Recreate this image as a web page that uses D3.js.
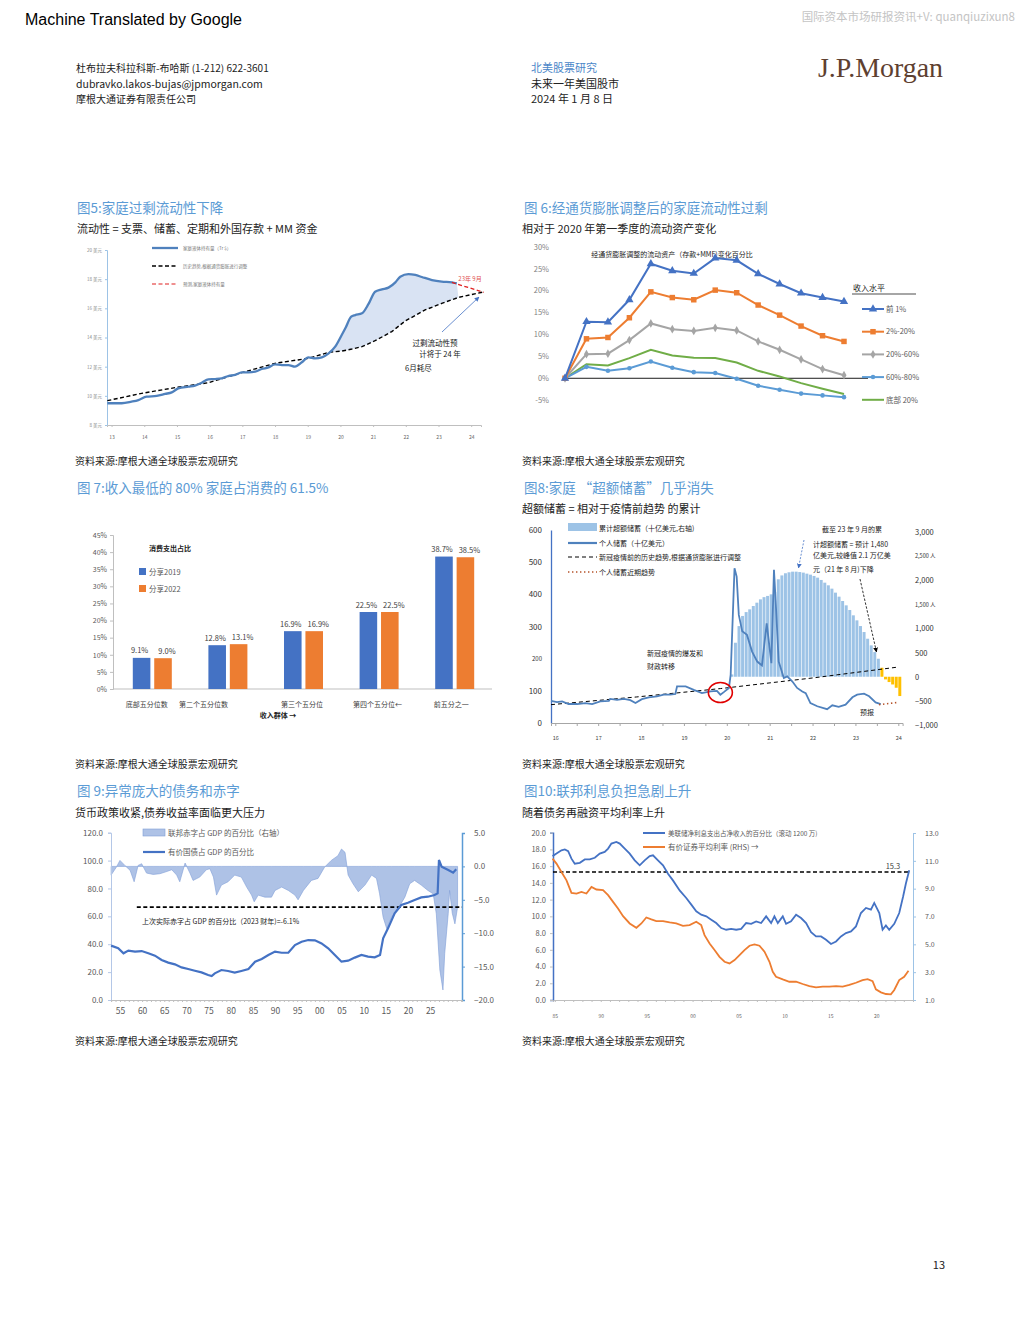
<!DOCTYPE html>
<html>
<head>
<meta charset="utf-8">
<script src="https://cdnjs.cloudflare.com/ajax/libs/d3/7.8.5/d3.min.js"></script>
<style>
  body { margin: 0; background: #fff; }
  svg { display: block; font-family: "Noto Sans CJK SC", "Noto Sans", sans-serif; }
</style>
</head>
<body>
<svg id="page" width="1020" height="1320"></svg>
<script>
'use strict';

// ---------- Fig 5: household liquidity (Tr $) ----------
const liqYears = [2012.87, 2013.31, 2013.61, 2013.82, 2014.07, 2014.38, 2014.64, 2014.84, 2015.04, 2015.35,
  2015.55, 2015.76, 2015.96, 2016.17, 2016.37, 2016.57, 2016.78, 2016.98, 2017.19, 2017.39, 2017.59, 2017.80,
  2018.00, 2018.21, 2018.41, 2018.61, 2018.82, 2019.02, 2019.23, 2019.43, 2019.64, 2019.84, 2020.04, 2020.15,
  2020.33, 2020.45, 2020.66, 2020.86, 2021.06, 2021.27, 2021.47, 2021.68, 2021.83, 2022.08, 2022.29, 2022.49,
  2022.80, 2023.10, 2023.41, 2023.56];
const liqValues = [9.49, 9.49, 9.60, 9.71, 9.94, 9.99, 10.13, 10.24, 10.51, 10.63,
  10.70, 10.90, 11.13, 11.15, 11.20, 11.36, 11.43, 11.61, 11.61, 11.66, 11.84, 11.95,
  12.16, 12.11, 12.11, 12.00, 12.30, 12.64, 12.57, 12.64, 12.91, 13.37, 14.17, 14.63,
  15.43, 15.54, 15.66, 16.30, 17.14, 17.30, 17.42, 17.78, 18.17, 18.35, 18.29, 18.15,
  17.94, 17.83, 17.78, 17.71];
const liqTrendYears = [2012.87, 2013.92, 2014.94, 2015.96, 2016.98, 2018.00, 2019.02, 2019.64, 2020.04,
  2020.35, 2020.66, 2021.06, 2021.57, 2021.98, 2022.59, 2023.10, 2023.61, 2024.38];
const liqTrendValues = [9.67, 10.17, 10.56, 10.90, 11.59, 12.23, 12.57, 12.98, 13.07,
  13.21, 13.37, 13.78, 14.40, 15.13, 15.89, 16.34, 16.75, 17.12];
const liqForecastYears = [2023.41, 2024.38];
const liqForecastValues = [17.78, 17.10];
const f5ValueTicks = [8, 10, 12, 14, 16, 18, 20];
const f5YearTicks = [2013, 2014, 2015, 2016, 2017, 2018, 2019, 2020, 2021, 2022, 2023, 2024];

// ---------- Fig 6: liquid assets change by income group (%) ----------
const f6Quarters = ['2020Q1', '2020Q2', '2020Q3', '2020Q4', '2021Q1', '2021Q2', '2021Q3', '2021Q4',
  '2022Q1', '2022Q2', '2022Q3', '2022Q4', '2023Q1', '2023Q2'];
const top1 = [0, 12.9, 12.8, 17.9, 26.1, 24.5, 23.9, 27.4, 26.9, 23.8, 21.5, 19.4, 18.4, 17.5];
const p2to20 = [0, 9.0, 9.3, 13.8, 19.7, 18.4, 17.9, 20.1, 19.5, 16.7, 14.4, 11.9, 9.7, 8.4];
const p20to60 = [0, 5.5, 5.6, 8.7, 12.5, 11.2, 10.8, 11.5, 10.9, 8.4, 6.5, 4.3, 2.1, 0.7];
const p60to80 = [0, 2.6, 1.7, 2.3, 3.8, 2.4, 1.4, 1.2, -0.1, -1.7, -2.6, -3.5, -3.9, -4.3];
const bottom20 = [0, 3.2, 2.9, 4.6, 6.5, 5.2, 4.7, 4.6, 3.6, 1.7, 0.4, -1.1, -2.4, -3.6];
const f6Names = ['前 1%', '2%-20%', '20%-60%', '60%-80%', '底部 20%'];
const f6Ticks = [-5, 0, 5, 10, 15, 20, 25, 30];

// ---------- Fig 7: share of consumption (%) ----------
const quintiles = ['底部五分位数', '第二个五分位数', '第三个五分位', '第四个五分位←', '前五分之一'];
const share2019 = [9.1, 12.8, 16.9, 22.5, 38.7];
const share2022 = [9.0, 13.1, 16.9, 22.5, 38.5];
const f7Ticks = [0, 5, 10, 15, 20, 25, 30, 35, 40, 45];

// ---------- Fig 8: excess savings ----------
const savingsYears = [2015.90, 2016.04, 2016.16, 2016.31, 2016.51, 2016.70, 2016.86, 2017.05, 2017.25, 2017.28,
  2017.44, 2017.60, 2017.75, 2017.87, 2018.02, 2018.18, 2018.37, 2018.53, 2018.68, 2018.80, 2018.84, 2019.04,
  2019.23, 2019.42, 2019.62, 2019.77, 2019.85, 2019.93, 2020.05, 2020.09, 2020.18, 2020.23, 2020.28, 2020.36,
  2020.47, 2020.59, 2020.71, 2020.82, 2020.93, 2021.04, 2021.10, 2021.14, 2021.21, 2021.33, 2021.41, 2021.53,
  2021.64, 2021.76, 2021.84, 2021.95, 2022.11, 2022.34, 2022.46, 2022.61, 2022.77, 2022.93, 2023.04, 2023.20,
  2023.32, 2023.47, 2023.59];
const savingsValues = [69, 65, 67, 59, 59, 62, 59, 67, 69, 75,
  72, 75, 71, 62, 74, 80, 83, 88, 88, 90, 114, 114,
  103, 93, 98, 100, 88, 96, 109, 150, 481, 455, 336, 285,
  274, 222, 191, 179, 310, 186, 476, 378, 191, 140, 145, 129,
  109, 98, 93, 62, 52, 43, 55, 50, 57, 80, 88, 91,
  83, 64, 59];
const savingsTrendYears = [2015.90, 2017.90, 2019.85, 2022.00, 2024.00];
const savingsTrendValues = [57, 81, 107, 140, 174];
const recentTrendYears = [2023.55, 2024.00];
const recentTrendValues = [57, 64];
// monthly cumulative excess savings, Feb 2020 .. Jan 2024 (bn $)
const excessFirstMonth = 2020 + 1 / 12;
const excessSavings = [48, 705, 1050, 1260, 1340, 1397, 1466, 1535, 1604, 1650, 1675,
  1708, 1757, 2020, 2100, 2145, 2165, 2178, 2178, 2170, 2158, 2137, 2116,
  2089, 2054, 2006, 1950, 1895, 1826, 1743, 1660, 1570, 1480, 1383, 1273,
  1169, 1051, 927, 788, 650, 512, 373, 187, -55, -110, -160, -228,
  -400];
const excessProjectedFrom = 2023 + 7 / 12; // Aug 2023 onward is forecast
const f8LeftTicks = [0, 100, 200, 300, 400, 500, 600];
const f8RightTicks = [-1000, -500, 0, 500, 1000, 1500, 2000, 2500, 3000];

// ---------- Fig 9: debt and deficit (% GDP) ----------
const debtYears = [1953.0, 1954.6, 1955.8, 1956.9, 1958.4, 1959.9, 1961.4, 1962.9, 1964.4, 1965.9,
  1967.4, 1968.9, 1970.4, 1971.9, 1973.4, 1974.9, 1975.7, 1976.4, 1977.9, 1979.4, 1980.9, 1982.4,
  1984.0, 1985.5, 1987.0, 1988.5, 1990.0, 1991.5, 1993.0, 1994.5, 1996.0, 1997.5, 1999.0, 2000.5,
  2002.0, 2003.5, 2005.0, 2006.5, 2008.0, 2009.5, 2011.0, 2012.5, 2013.7, 2014.4, 2015.5, 2017.0,
  2018.5, 2020.0, 2021.5, 2023.0, 2024.5, 2026.0, 2026.7, 2027.0, 2027.6, 2029.1, 2030.2, 2030.9];
const debtValues = [39.0, 37.1, 33.5, 35.4, 34.7, 35.1, 33.5, 31.8, 28.7, 26.8,
  25.6, 23.4, 22.2, 21.0, 19.8, 17.9, 17.2, 19.1, 21.5, 20.8, 19.6, 20.8,
  22.2, 27.5, 29.4, 32.3, 34.7, 33.9, 33.9, 39.4, 41.8, 43.0, 42.8, 40.6,
  37.1, 32.3, 27.5, 28.2, 30.4, 32.3, 31.1, 30.6, 32.3, 44.2, 51.4, 62.2,
  68.1, 69.8, 71.7, 73.6, 74.1, 75.3, 76.5, 100.4, 95.6, 93.2, 91.3, 93.7];
const deficitYears = [1953.0, 1954.2, 1955.0, 1956.1, 1957.3, 1958.2, 1959.1, 1959.9, 1961.0, 1962.5,
  1964.0, 1965.2, 1966.7, 1967.8, 1968.5, 1969.7, 1970.8, 1971.5, 1973.0, 1974.5, 1975.3, 1976.1,
  1976.8, 1977.9, 1979.4, 1980.9, 1982.4, 1983.6, 1984.7, 1985.3, 1986.2, 1987.7, 1989.2, 1990.0,
  1991.5, 1993.0, 1994.5, 1995.2, 1996.4, 1998.2, 1999.7, 2001.2, 2002.7, 2004.2, 2005.0, 2005.8,
  2006.5, 2007.6, 2008.8, 2010.3, 2011.8, 2012.9, 2013.6, 2014.4, 2015.2, 2016.3, 2017.8, 2019.3,
  2020.4, 2021.5, 2023.0, 2024.5, 2025.7, 2026.4, 2027.2, 2027.9, 2028.3, 2029.1, 2029.4, 2030.0,
  2030.6, 2031.2];
const deficitValues = [-1.3, -0.1, 0.9, 0.15, -0.6, -2.3, 0.15, 0.4, -1.0, -1.2,
  -1.1, -0.85, -0.5, -1.3, -2.3, 0.5, -1.0, -2.1, -1.6, -0.5, -0.35, -1.6,
  -4.3, -2.8, -2.3, -1.3, -1.6, -3.1, -4.3, -5.3, -4.3, -4.6, -4.6, -3.6,
  -3.1, -3.6, -4.3, -5.0, -3.6, -2.1, -1.8, -0.1, 0.9, 1.6, 2.6, 2.1,
  -1.3, -2.6, -3.8, -2.8, -1.3, -1.8, -4.1, -7.6, -9.3, -7.6, -6.3, -4.6,
  -2.6, -2.1, -2.8, -3.6, -4.1, -7.1, -15.5, -18.5, -13.0, -7.0, -3.6, -7.0,
  -8.6, -6.1];
const lastDeficit = -6.1;
const f9LeftTicks = [0, 20, 40, 60, 80, 100, 120];
const f9RightTicks = [-20, -15, -10, -5, 0, 5];
const f9LabelYears = [1955, 1960, 1965, 1970, 1975, 1980, 1985, 1990, 1995, 2000, 2005, 2010, 2015, 2020, 2025];

// ---------- Fig 10: interest burden ----------
const interestYears = [1984.75, 1985.18, 1985.72, 1986.09, 1986.45, 1986.81, 1987.17, 1987.72, 1988.26, 1988.80,
  1989.35, 1989.89, 1990.43, 1990.80, 1991.16, 1991.70, 1992.07, 1992.61, 1993.15, 1993.70, 1994.24, 1994.78,
  1995.33, 1995.69, 1996.23, 1996.78, 1997.32, 1997.86, 1998.59, 1999.31, 1999.86, 2000.40, 2000.94, 2001.49,
  2002.03, 2002.57, 2003.12, 2003.66, 2004.20, 2004.75, 2005.29, 2005.83, 2006.38, 2006.92, 2007.46, 2008.01,
  2008.55, 2008.91, 2009.28, 2009.82, 2010.18, 2010.72, 2011.27, 2011.81, 2012.36, 2012.90, 2013.44, 2013.99,
  2014.53, 2015.07, 2015.62, 2016.16, 2016.70, 2017.25, 2017.79, 2018.33, 2018.88, 2019.42, 2019.78, 2020.33,
  2020.69, 2021.05, 2021.41, 2021.96, 2022.50, 2022.93, 2023.22, 2023.59];
const interestValues = [17.2, 17.5, 17.9, 18.0, 17.8, 16.9, 16.3, 16.4, 16.8, 16.8,
  17.0, 17.5, 17.7, 18.1, 18.7, 18.9, 18.7, 18.1, 17.5, 16.7, 16.1, 16.7,
  17.2, 17.3, 16.7, 16.1, 15.1, 14.3, 13.1, 12.2, 11.4, 10.6, 10.2, 10.0,
  9.6, 9.2, 8.6, 8.4, 8.5, 8.4, 8.5, 9.2, 9.1, 9.4, 9.2, 10.0,
  9.2, 10.0, 9.2, 10.0, 9.1, 9.4, 10.2, 9.8, 9.2, 8.1, 7.6, 7.6,
  7.2, 6.7, 7.0, 7.6, 8.0, 8.2, 8.8, 10.4, 11.0, 10.8, 11.6, 10.4,
  8.4, 8.9, 8.4, 9.1, 10.4, 12.4, 13.9, 15.5];
const rateYears = [1984.75, 1985.18, 1985.72, 1986.27, 1986.81, 1987.36, 1987.90, 1988.44, 1988.99, 1989.53,
  1990.25, 1990.80, 1991.34, 1991.88, 1992.43, 1993.15, 1993.88, 1994.42, 1994.96, 1995.51, 1996.05, 1996.78,
  1997.50, 1998.22, 1998.95, 1999.67, 2000.40, 2000.94, 2001.30, 2001.85, 2002.39, 2002.93, 2003.48, 2004.02,
  2004.57, 2005.11, 2005.65, 2006.20, 2006.74, 2007.28, 2007.83, 2008.37, 2008.73, 2009.09, 2009.82, 2010.54,
  2011.27, 2011.99, 2012.72, 2013.44, 2014.17, 2014.89, 2015.62, 2016.34, 2017.07, 2017.79, 2018.51, 2019.06,
  2019.60, 2019.96, 2020.51, 2021.05, 2021.59, 2021.96, 2022.50, 2023.04, 2023.51];
const rateValues = [11.16, 10.80, 10.20, 9.60, 8.70, 8.65, 8.77, 8.65, 9.13, 8.94,
  8.89, 8.53, 8.05, 7.57, 7.02, 6.50, 6.19, 6.50, 6.93, 6.79, 6.67, 6.67,
  6.57, 6.50, 6.33, 6.38, 6.62, 6.38, 5.66, 5.06, 4.59, 4.10, 3.75, 3.63,
  3.87, 4.23, 4.59, 4.90, 5.00, 4.90, 4.47, 3.75, 3.03, 2.67, 2.48, 2.31,
  2.31, 2.15, 2.00, 1.91, 1.96, 1.96, 2.00, 1.96, 2.08, 2.24, 2.43, 2.50,
  2.36, 1.77, 1.55, 1.43, 1.41, 1.72, 2.43, 2.67, 3.10];
const latestInterest = 15.3;
const f10LeftTicks = [0, 2, 4, 6, 8, 10, 12, 14, 16, 18, 20];
const f10RightTicks = [1, 3, 5, 7, 9, 11, 13];
const f10LabelYears = [1985, 1990, 1995, 2000, 2005, 2010, 2015, 2020];

// ---------- helpers ----------
const svg = d3.select('#page');
const FONT = '"Noto Sans CJK SC", "Noto Sans", sans-serif';
const TITLE_BLUE = '#5b9bd5';

function label(g, x, y, s, o = {}) {
  return g.append('text')
    .attr('x', x).attr('y', y)
    .attr('font-size', o.size || 10)
    .attr('fill', o.fill || '#222')
    .attr('text-anchor', o.anchor || 'start')
    .attr('font-weight', o.weight || 'normal')
    .text(s);
}

function styleAxis(g, o) {
  g.attr('font-family', FONT);
  if (o.noDomain) g.select('.domain').remove();
  else g.select('.domain').attr('stroke', o.line || '#bfbfbf').attr('stroke-width', o.lw || 1);
  g.selectAll('.tick line').attr('stroke', o.tick || o.line || '#bfbfbf');
  g.selectAll('.tick text').attr('font-size', o.size || 8).attr('fill', o.fill || '#595959');
}

const defs = svg.append('defs');
function arrowHead(id, color) {
  defs.append('marker')
    .attr('id', id).attr('viewBox', '0 0 10 10')
    .attr('refX', 9).attr('refY', 5)
    .attr('markerWidth', 6).attr('markerHeight', 6)
    .attr('orient', 'auto-start-reverse')
    .append('path').attr('d', 'M0,0L10,5L0,10z').attr('fill', color);
}
arrowHead('arrBlue', '#4472c4');
arrowHead('arrBlack', '#000');

function pairs(xs, ys) { return xs.map((x, i) => [x, ys[i]]); }

// ---------- page header ----------
label(svg, 25, 25, 'Machine Translated by Google', {size: 16, fill: '#000'})
  .attr('font-family', '"Liberation Sans", Arial, sans-serif');
label(svg, 1015, 21, '国际资本市场研报资讯+V: quanqiuzixun8', {size: 11.5, fill: '#c4c4c4', anchor: 'end'});

label(svg, 76, 72, '杜布拉夫科拉科斯-布哈斯 (1-212) 622-3601', {size: 10});
label(svg, 76, 88, 'dubravko.lakos-bujas@jpmorgan.com', {size: 10.5});
label(svg, 76, 103, '摩根大通证券有限责任公司', {size: 10});

label(svg, 531, 72, '北美股票研究', {size: 11, fill: '#4a86c8'});
label(svg, 531, 88, '未来一年美国股市', {size: 11});
label(svg, 531, 103, '2024 年 1 月 8 日', {size: 11});

label(svg, 818, 77, 'J.P.Morgan', {size: 27, fill: '#5e4030'})
  .attr('font-family', '"Liberation Serif", "DejaVu Serif", serif')
  .attr('textLength', 125).attr('lengthAdjust', 'spacingAndGlyphs');

label(svg, 945, 1269, '13', {size: 11, anchor: 'end'});

// ---------- Fig 5 ----------
(function () {
  const g = svg.append('g');
  label(g, 77, 213, '图5:家庭过剩流动性下降', {size: 13.5, fill: TITLE_BLUE});
  label(g, 77, 233, '流动性 = 支票、储蓄、定期和外国存款 + MM 资金', {size: 11});
  label(g, 75, 465, '资料来源:摩根大通全球股票宏观研究', {size: 10});

  const x = d3.scaleLinear().domain([2012.86, 2024.3]).range([107, 481]);
  const y = d3.scaleLinear().domain([8, 20]).range([425, 250]);

  const blue = pairs(liqYears, liqValues);
  const trend = pairs(liqTrendYears, liqTrendValues);
  const line = d3.line().x(d => x(d[0])).y(d => y(d[1])).curve(d3.curveMonotoneX);
  const straight = d3.line().x(d => x(d[0])).y(d => y(d[1]));

  // excess liquidity band: blue line forward, trend back
  const upper = blue.filter(d => d[0] >= 2019.6);
  const lower = trend.filter(d => d[0] >= 2019.6 && d[0] <= 2023.7).reverse();
  g.append('path').attr('d', straight(upper.concat(lower)) + 'Z').attr('fill', '#d9e3f3');

  g.append('g').attr('transform', 'translate(107,0)')
    .call(d3.axisLeft(y).tickValues(f5ValueTicks).tickFormat(d => d + ' 美元').tickSize(2).tickPadding(3))
    .call(a => styleAxis(a, {line: '#9dc3e6', size: 4.5, fill: '#888'}));
  g.append('g').attr('transform', 'translate(0,425)')
    .call(d3.axisBottom(x).tickValues(f5YearTicks).tickFormat(d => String(d % 100)).tickSize(2).tickPadding(8))
    .call(a => styleAxis(a, {line: '#bfbfbf', size: 5, fill: '#666'}));

  g.append('path').attr('d', straight(trend)).attr('fill', 'none')
    .attr('stroke', '#000').attr('stroke-width', 1.4).attr('stroke-dasharray', '4,2.5');
  g.append('path').attr('d', line(blue)).attr('fill', 'none')
    .attr('stroke', '#4f81bd').attr('stroke-width', 2.3);
  g.append('path').attr('d', straight(pairs(liqForecastYears, liqForecastValues))).attr('fill', 'none')
    .attr('stroke', '#e02020').attr('stroke-width', 1.3).attr('stroke-dasharray', '4,2.5');

  // legend
  const lg = [
    {t: '家庭液体持有量（Tr $）', c: '#4f81bd', w: 2.3, dash: null},
    {t: '历史趋势,根据通货膨胀进行调整', c: '#000', w: 1.4, dash: '4,2.5'},
    {t: '预测,家庭液体持有量', c: '#e02020', w: 1.1, dash: '4,2.5'}
  ];
  lg.forEach((d, i) => {
    const yy = 248 + i * 18;
    g.append('line').attr('x1', 152).attr('x2', 178).attr('y1', yy).attr('y2', yy)
      .attr('stroke', d.c).attr('stroke-width', d.w).attr('stroke-dasharray', d.dash);
    label(g, 183, yy + 1.8, d.t, {size: 4.5, fill: '#777'});
  });

  label(g, 470, 281, '23年 9月', {size: 6, fill: '#e05050', anchor: 'middle'});
  g.append('line').attr('x1', 442).attr('y1', 332).attr('x2', 479).attr('y2', 297)
    .attr('stroke', '#4472c4').attr('stroke-width', 0.8).attr('marker-end', 'url(#arrBlue)');
  label(g, 435, 346, '过剩流动性预', {size: 7.5, anchor: 'middle'});
  label(g, 440, 357, '计将于 24 年', {size: 7.5, anchor: 'middle'});
  label(g, 405, 371, '6月耗尽', {size: 7.5});
})();

// ---------- Fig 6 ----------
(function () {
  const g = svg.append('g');
  label(g, 524, 213, '图 6:经通货膨胀调整后的家庭流动性过剩', {size: 13.5, fill: TITLE_BLUE});
  label(g, 522, 233, '相对于 2020 年第一季度的流动资产变化', {size: 11});
  label(g, 522, 465, '资料来源:摩根大通全球股票宏观研究', {size: 10});

  const x = d3.scalePoint().domain(f6Quarters).range([565, 844]);
  const y = d3.scaleLinear().domain([-5, 30]).range([400.2, 246.7]);

  g.append('g').attr('transform', 'translate(549,0)')
    .call(d3.axisLeft(y).tickValues(f6Ticks).tickFormat(d => d + '%').tickSize(0).tickPadding(0))
    .call(a => styleAxis(a, {noDomain: true, size: 7.5, fill: '#7f7f7f'}));

  g.append('line').attr('x1', x.range()[0]).attr('x2', 868).attr('y1', y(0)).attr('y2', y(0))
    .attr('stroke', '#000').attr('stroke-width', 0.9);

  label(g, 672, 257, '经通货膨胀调整的流动资产（存款+MMF)变化百分比', {size: 7, anchor: 'middle'});

  const series = [
    {v: bottom20, c: '#70ad47', sym: null},
    {v: p60to80, c: '#5b9bd5', sym: d3.symbolCircle, s: 16},
    {v: p20to60, c: '#a5a5a5', sym: d3.symbolDiamond, s: 22},
    {v: p2to20, c: '#ed7d31', sym: d3.symbolSquare, s: 30},
    {v: top1, c: '#4472c4', sym: d3.symbolTriangle, s: 30}
  ];
  const line = d3.line().x((d, i) => x(f6Quarters[i])).y(d => y(d));
  series.forEach(s => {
    g.append('path').attr('d', line(s.v)).attr('fill', 'none')
      .attr('stroke', s.c).attr('stroke-width', 2);
    if (s.sym) {
      g.selectAll(null).data(s.v).enter().append('path')
        .attr('transform', (d, i) => `translate(${x(f6Quarters[i])},${y(d)})`)
        .attr('d', d3.symbol().type(s.sym).size(s.s)).attr('fill', s.c);
    }
  });

  // legend
  label(g, 853, 291, '收入水平', {size: 8});
  g.append('line').attr('x1', 852).attr('x2', 916).attr('y1', 294).attr('y2', 294)
    .attr('stroke', '#000').attr('stroke-width', 0.7);
  const legendOrder = [series[4], series[3], series[2], series[1], series[0]];
  legendOrder.forEach((s, i) => {
    const yy = 309 + i * 22.7;
    g.append('line').attr('x1', 862).attr('x2', 884).attr('y1', yy).attr('y2', yy)
      .attr('stroke', s.c).attr('stroke-width', 2);
    if (s.sym) {
      g.append('path').attr('transform', `translate(873,${yy})`)
        .attr('d', d3.symbol().type(s.sym).size(s.s)).attr('fill', s.c);
    }
    label(g, 886, yy + 2.7, f6Names[i], {size: 7.5, fill: '#595959'});
  });
})();

// ---------- Fig 7 ----------
(function () {
  const g = svg.append('g');
  label(g, 77, 493, '图 7:收入最低的 80% 家庭占消费的 61.5%', {size: 13.5, fill: TITLE_BLUE});
  label(g, 75, 768, '资料来源:摩根大通全球股票宏观研究', {size: 10});

  const x = d3.scaleBand().domain(quintiles).range([114, 492]);
  const sub = d3.scaleBand().domain(['2019', '2022']).range([-19, 20]).paddingInner(0.18);
  const y = d3.scaleLinear().domain([0, 45]).range([689, 535]);

  g.append('g').attr('transform', 'translate(113,0)')
    .call(d3.axisLeft(y).tickValues(f7Ticks).tickFormat(d => d + '%').tickSize(3).tickPadding(3))
    .call(a => styleAxis(a, {line: '#bfbfbf', size: 7, fill: '#595959'}));
  g.append('line').attr('x1', 113).attr('x2', x.range()[1]).attr('y1', y(0)).attr('y2', y(0))
    .attr('stroke', '#bfbfbf');

  const groups = [
    {k: '2019', v: share2019, c: '#4472c4', dx: -2},
    {k: '2022', v: share2022, c: '#ed7d31', dx: 4}
  ];
  groups.forEach(s => {
    const cx = i => x(quintiles[i]) + x.bandwidth() / 2 + sub(s.k);
    g.selectAll(null).data(s.v).enter().append('rect')
      .attr('x', (d, i) => cx(i)).attr('y', d => y(d))
      .attr('width', sub.bandwidth()).attr('height', d => y(0) - y(d))
      .attr('fill', s.c);
    g.selectAll(null).data(s.v).enter().append('text')
      .attr('x', (d, i) => cx(i) + sub.bandwidth() / 2 + s.dx).attr('y', d => y(d) - 4.5)
      .attr('text-anchor', 'middle').attr('font-size', 7.5).attr('fill', '#404040')
      .text(d => d.toFixed(1) + '%');
  });

  const catShift = [-5, -24, -1, -1, -3];
  g.selectAll(null).data(quintiles).enter().append('text')
    .attr('x', (d, i) => x(d) + x.bandwidth() / 2 + catShift[i]).attr('y', 707)
    .attr('text-anchor', 'middle').attr('font-size', 7).attr('fill', '#404040')
    .text(d => d);
  label(g, 278, 718, '收入群体 →', {size: 7, anchor: 'middle', weight: 'bold'});

  label(g, 149, 551, '消费支出占比', {size: 7, weight: 'bold'});
  groups.forEach((s, i) => {
    g.append('rect').attr('x', 139).attr('y', 568 + i * 17).attr('width', 7).attr('height', 7).attr('fill', s.c);
    label(g, 149, 575 + i * 17, '分享' + s.k, {size: 7.5, fill: '#595959'});
  });
})();

// ---------- Fig 8 ----------
(function () {
  const g = svg.append('g');
  label(g, 524, 493, '图8:家庭 “超额储蓄”几乎消失', {size: 13.5, fill: TITLE_BLUE});
  label(g, 522, 513, '超额储蓄 = 相对于疫情前趋势 的累计', {size: 11});
  label(g, 522, 768, '资料来源:摩根大通全球股票宏观研究', {size: 10});

  const x = d3.scaleLinear().domain([2015.9, 2024.1]).range([551, 902.6]);
  const yL = d3.scaleLinear().domain([0, 600]).range([723, 530]);
  const yR = d3.scaleLinear().domain([-1000, 3000]).range([725, 532]);
  const bw = x(2020 + 1 / 12) - x(2020);

  // bars
  g.selectAll(null).data(excessSavings).enter().append('rect')
    .attr('x', (d, i) => x(excessFirstMonth + i / 12))
    .attr('y', d => yR(Math.max(d, 0)))
    .attr('width', bw - 0.6)
    .attr('height', d => Math.abs(yR(d) - yR(0)))
    .attr('fill', (d, i) => excessFirstMonth + i / 12 >= excessProjectedFrom - 0.001 ? '#ffc000' : '#9dc3e6');

  g.append('g').attr('transform', 'translate(551,0)')
    .call(d3.axisLeft(yL).tickValues(f8LeftTicks).tickSize(0).tickPadding(9))
    .call(a => styleAxis(a, {line: '#4472c4', lw: 1.3, size: 8, fill: '#333'}))
    .call(a => a.selectAll('.tick text').filter(d => d === 200).attr('font-size', 6));
  g.append('g').attr('transform', 'translate(903,0)')
    .call(d3.axisRight(yR).tickValues(f8RightTicks)
      .tickFormat(d => (d === 2500 || d === 1500) ? d3.format(',')(d) + ' 人' : d3.format(',')(d))
      .tickSize(0).tickPadding(12))
    .call(a => styleAxis(a, {noDomain: true, size: 7.5, fill: '#333'}))
    .call(a => a.selectAll('.tick text').filter(d => d === 2500 || d === 1500).attr('font-size', 5.5));
  g.append('g').attr('transform', 'translate(0,723)')
    .call(d3.axisBottom(x).tickValues(d3.range(2016, 2024.01, 0.5))
      .tickFormat(d => Number.isInteger(d) ? String(d % 100) : '').tickSize(3).tickPadding(10))
    .call(a => styleAxis(a, {line: '#a6a6a6', size: 5.5, fill: '#444'}));

  const line = d3.line().x(d => x(d[0])).y(d => yL(d[1]));
  g.append('path').attr('d', line(pairs(savingsTrendYears, savingsTrendValues))).attr('fill', 'none')
    .attr('stroke', '#000').attr('stroke-width', 1).attr('stroke-dasharray', '4,3');
  g.append('path').attr('d', line(pairs(savingsYears, savingsValues))).attr('fill', 'none')
    .attr('stroke', '#4f81bd').attr('stroke-width', 1.8);
  g.append('path').attr('d', line(pairs(recentTrendYears, recentTrendValues))).attr('fill', 'none')
    .attr('stroke', '#b5532a').attr('stroke-width', 1.6).attr('stroke-dasharray', '1.4,2.6');

  g.append('ellipse').attr('cx', x(2019.85)).attr('cy', yL(95)).attr('rx', 12).attr('ry', 10)
    .attr('fill', 'none').attr('stroke', '#e00000').attr('stroke-width', 1.6);

  // legend
  g.append('rect').attr('x', 568).attr('y', 523).attr('width', 29).attr('height', 8).attr('fill', '#9dc3e6');
  label(g, 599, 530.5, '累计超额储蓄（十亿美元,右轴)', {size: 7});
  g.append('line').attr('x1', 568).attr('x2', 597).attr('y1', 543).attr('y2', 543)
    .attr('stroke', '#4f81bd').attr('stroke-width', 2.2);
  label(g, 599, 545.5, '个人储蓄（十亿美元）', {size: 7});
  g.append('line').attr('x1', 568).attr('x2', 597).attr('y1', 557).attr('y2', 557)
    .attr('stroke', '#000').attr('stroke-width', 1).attr('stroke-dasharray', '4,3');
  label(g, 599, 560, '新冠疫情前的历史趋势,根据通货膨胀进行调整', {size: 7});
  g.append('line').attr('x1', 568).attr('x2', 597).attr('y1', 572).attr('y2', 572)
    .attr('stroke', '#b5532a').attr('stroke-width', 1.6).attr('stroke-dasharray', '1.4,2.6');
  label(g, 599, 574.5, '个人储蓄近期趋势', {size: 7});

  label(g, 822, 531.5, '截至 23 年 9 月的累', {size: 7});
  label(g, 813, 547, '计超额储蓄 = 预计 1,480', {size: 7});
  label(g, 813, 558, '亿美元,较峰值 2.1 万亿美', {size: 7});
  label(g, 813, 572, '元（21 年 8 月)下降', {size: 7});
  g.append('line').attr('x1', 804).attr('y1', 540).attr('x2', 798.5).attr('y2', 568)
    .attr('stroke', '#4472c4').attr('stroke-width', 0.8).attr('stroke-dasharray', '2,1.5')
    .attr('marker-end', 'url(#arrBlue)');
  g.append('line').attr('x1', 860).attr('y1', 579).attr('x2', 876.5).attr('y2', 652)
    .attr('stroke', '#000').attr('stroke-width', 0.8).attr('stroke-dasharray', '2.5,1.5')
    .attr('marker-end', 'url(#arrBlack)');

  label(g, 647, 655.5, '新冠疫情的爆发和', {size: 7});
  label(g, 647, 668.5, '财政转移', {size: 7});
  label(g, 860, 715, '预报', {size: 7});
})();

// ---------- Fig 9 ----------
(function () {
  const g = svg.append('g');
  label(g, 77, 796, '图 9:异常庞大的债务和赤字', {size: 13.5, fill: TITLE_BLUE});
  label(g, 75, 817, '货币政策收紧,债券收益率面临更大压力', {size: 11});
  label(g, 75, 1045, '资料来源:摩根大通全球股票宏观研究', {size: 10});

  const x = d3.scaleLinear().domain([1953, 2032.2]).range([111.1, 462]);
  const yL = d3.scaleLinear().domain([0, 120]).range([1000, 832.7]);
  const yR = d3.scaleLinear().domain([-20, 5]).range([1000, 833]);

  const area = d3.area().x(d => x(d[0])).y0(yR(0)).y1(d => yR(d[1]));
  g.append('path').attr('d', area(pairs(deficitYears, deficitValues)))
    .attr('fill', '#8faadc').attr('fill-opacity', 0.72)
    .attr('stroke', '#7f9ed6').attr('stroke-width', 0.6);

  g.append('g').attr('transform', 'translate(111,0)')
    .call(d3.axisLeft(yL).tickValues(f9LeftTicks).tickFormat(d3.format('.1f')).tickSize(3).tickPadding(5))
    .call(a => styleAxis(a, {line: '#b4c7e7', size: 8, fill: '#595959'}));
  g.append('g').attr('transform', 'translate(462,0)')
    .call(d3.axisRight(yR).tickValues(f9RightTicks).tickFormat(d3.format('.1f')).tickSize(3).tickPadding(9))
    .call(a => styleAxis(a, {line: '#5b9bd5', lw: 1.5, size: 8, fill: '#595959'}));
  g.append('g').attr('transform', 'translate(0,1000)')
    .call(d3.axisBottom(x).tickValues(d3.range(1953, 2033))
      .tickFormat(d => f9LabelYears.includes(d) ? d3.format('02d')(d % 100) : '').tickSize(2).tickPadding(6))
    .call(a => styleAxis(a, {line: '#bfbfbf', size: 8.5, fill: '#595959'}));

  g.append('line').attr('x1', x(1958.8)).attr('x2', x.range()[1]).attr('y1', yR(lastDeficit)).attr('y2', yR(lastDeficit))
    .attr('stroke', '#000').attr('stroke-width', 1.6).attr('stroke-dasharray', '4,2.5');
  label(g, 142, 923.5, '上次实际赤字占 GDP 的百分比（2023 财年)=-6.1%', {size: 7});

  const line = d3.line().x(d => x(d[0])).y(d => yL(d[1]));
  g.append('path').attr('d', line(pairs(debtYears, debtValues))).attr('fill', 'none')
    .attr('stroke', '#4472c4').attr('stroke-width', 2.2);

  g.append('rect').attr('x', 143).attr('y', 829).attr('width', 22).attr('height', 7)
    .attr('fill', '#8faadc').attr('fill-opacity', 0.72).attr('stroke', '#7f9ed6').attr('stroke-width', 0.6);
  label(g, 168, 836, '联邦赤字占 GDP 的百分比（右轴）', {size: 7.5, fill: '#595959'});
  g.append('line').attr('x1', 143).attr('x2', 165).attr('y1', 852).attr('y2', 852)
    .attr('stroke', '#4472c4').attr('stroke-width', 2.2);
  label(g, 168, 855, '有价国债占 GDP 的百分比', {size: 7.5, fill: '#595959'});
})();

// ---------- Fig 10 ----------
(function () {
  const g = svg.append('g');
  label(g, 524, 796, '图10:联邦利息负担急剧上升', {size: 13.5, fill: TITLE_BLUE});
  label(g, 522, 817, '随着债务再融资平均利率上升', {size: 11});
  label(g, 522, 1045, '资料来源:摩根大通全球股票宏观研究', {size: 10});

  const x = d3.scaleLinear().domain([1984.8, 2024]).range([553, 913]);
  const yL = d3.scaleLinear().domain([0, 20]).range([1000, 832.7]);
  const yR = d3.scaleLinear().domain([1, 13]).range([1000, 833]);

  g.append('g').attr('transform', 'translate(553,0)')
    .call(d3.axisLeft(yL).tickValues(f10LeftTicks).tickFormat(d3.format('.1f')).tickSize(3).tickPadding(4))
    .call(a => styleAxis(a, {line: '#4472c4', lw: 1.5, tick: '#bfbfbf', size: 7.5, fill: '#595959'}));
  g.append('g').attr('transform', 'translate(913,0)')
    .call(d3.axisRight(yR).tickValues(f10RightTicks).tickFormat(d3.format('.1f')).tickSize(3).tickPadding(9))
    .call(a => styleAxis(a, {line: '#9dc3e6', size: 7, fill: '#595959'}));
  g.append('g').attr('transform', 'translate(0,1000)')
    .call(d3.axisBottom(x).tickValues(d3.range(1985, 2024))
      .tickFormat(d => f10LabelYears.includes(d) ? d3.format('02d')(d % 100) : '').tickSize(2).tickPadding(12))
    .call(a => styleAxis(a, {line: '#bfbfbf', size: 5, fill: '#666'}));

  g.append('line').attr('x1', x.range()[0]).attr('x2', x(2023.6)).attr('y1', yL(latestInterest)).attr('y2', yL(latestInterest))
    .attr('stroke', '#000').attr('stroke-width', 1.6).attr('stroke-dasharray', '4,2.5');
  label(g, 893, 869, latestInterest.toFixed(1), {size: 7.5, fill: '#404040', anchor: 'middle'});

  g.append('path').attr('d', d3.line().x(d => x(d[0])).y(d => yR(d[1]))(pairs(rateYears, rateValues)))
    .attr('fill', 'none').attr('stroke', '#ed7d31').attr('stroke-width', 1.8);
  g.append('path').attr('d', d3.line().x(d => x(d[0])).y(d => yL(d[1]))(pairs(interestYears, interestValues)))
    .attr('fill', 'none').attr('stroke', '#4472c4').attr('stroke-width', 1.8);

  g.append('line').attr('x1', 643).attr('x2', 665).attr('y1', 833).attr('y2', 833)
    .attr('stroke', '#4472c4').attr('stroke-width', 2);
  label(g, 668, 835.5, '美联储净利息支出占净收入的百分比（滚动 1200 万)', {size: 6.5, fill: '#595959'});
  g.append('line').attr('x1', 643).attr('x2', 665).attr('y1', 847).attr('y2', 847)
    .attr('stroke', '#ed7d31').attr('stroke-width', 2);
  label(g, 668, 850, '有价证券平均利率 (RHS) →', {size: 7.5, fill: '#595959'});
})();
</script>
</body>
</html>
